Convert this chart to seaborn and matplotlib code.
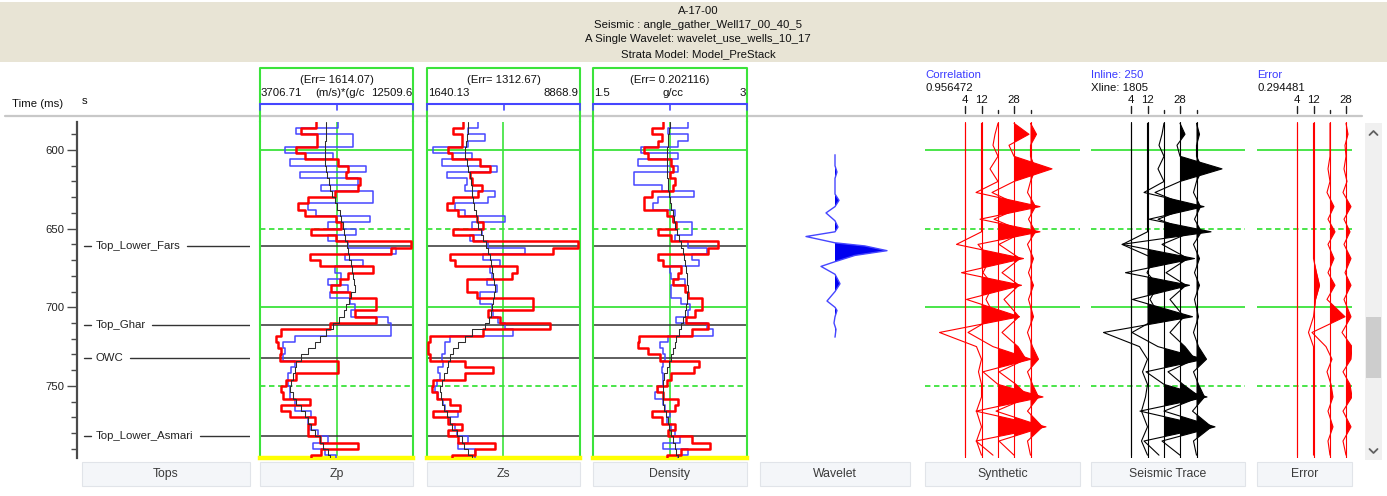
import numpy as np
import matplotlib
matplotlib.use("Agg")
import matplotlib.pyplot as plt
import seaborn as sns
from matplotlib.patches import Rectangle

# ------------------------------------------------------------------ data
title_lines = ["A-17-00",
               "Seismic : angle_gather_Well17_00_40_5",
               "A Single Wavelet: wavelet_use_wells_10_17",
               "Strata Model: Model_PreStack"]
track_names = ["Tops", "Zp", "Zs", "Density", "Wavelet", "Synthetic", "Seismic Trace", "Error"]

top_names = ["Top_Lower_Fars", "Top_Ghar", "OWC", "Top_Lower_Asmari"]
top_times = [661.0, 711.5, 732.5, 781.5]

time_ticks = [600, 650, 700, 750]
minor_ticks = [590, 610, 620, 630, 640, 660, 670, 680, 690, 710, 720, 730, 740, 760, 770, 780, 790]
solid_grid = [600, 700]
dashed_grid = [650, 750]

log_err = [1614.07, 1312.67, 0.202116]
log_min = [3706.71, 1640.13, 1.5]
log_max = [12509.6, 8868.9, 3.0]
log_unit = ["(m/s)*(g/c", "", "g/cc"]

log_time = np.arange(582, 798, 4)   # block tops, ms

zp_red = [6950, 6080, 7000, 7000, 5800, 6280,
          8190, 8770, 8670, 9440, 9340, 8000,
          6470, 5890, 6280, 8100, 8390, 6660,
          8100, 12410, 11260, 6560, 7140, 10210,
          8770, 8290, 7810, 8860, 10400, 10400,
          9150, 10400, 7710, 4930, 4650, 4740,
          4930, 4840, 8190, 8190, 5800, 5220,
          4930, 5030, 6560, 4930, 5410, 6850,
          6470, 6470, 7140, 9340, 7230, 6660]
zp_blue = [8190, 5800, 9060, 9060, 5130, 7910,
           5410, 9820, 5990, 9340, 7230, 10210,
           10210, 6470, 6950, 10010, 7620, 9250,
           7620, 8770, 11550, 8580, 9630, 8000,
           8390, 7620, 8770, 7710, 8860, 9150,
           8960, 11070, 11260, 11260, 5700, 5030,
           5130, 5030, 5700, 5510, 5320, 5320,
           5410, 5410, 5700, 5700, 6660, 6470,
           6560, 7040, 7620, 6760, 7430, 8100]
zp_model = [7520, 7520, 7480, 7460, 7430, 7430,
            7460, 7520, 7580, 7660, 7710, 7850,
            8000, 8150, 8290, 8390, 8480, 8540,
            8610, 8690, 8770, 8830, 8920, 9000,
            9080, 9130, 9150, 8920, 8810, 8670,
            8540, 8230, 7910, 7520, 7140, 6850,
            6470, 6080, 5800, 5700, 5610, 5510,
            5410, 5610, 5800, 6080, 6280, 6470,
            6660, 6850, 7140, 7330, 7620, 7710]

zs_red = [3360, 2890, 3280, 3280, 2650, 2810,
          4150, 4620, 3670, 3750, 4220, 4070,
          2890, 2570, 3120, 3990, 4300, 2890,
          3830, 8790, 7610, 2730, 2960, 5880,
          5640, 3510, 3510, 3990, 6670, 6670,
          4540, 5090, 7450, 4300, 1780, 1700,
          1700, 1780, 3440, 4780, 3440, 1940,
          1860, 2100, 2730, 3200, 1940, 2650,
          3280, 2650, 3120, 4850, 3910, 2810]
zs_blue = [4070, 3590, 4380, 3590, 1940, 3750,
           2330, 4930, 2570, 3510, 3440, 4850,
           4540, 2960, 3440, 5330, 3750, 4220,
           3670, 4540, 6270, 4300, 5090, 4620,
           4700, 4460, 4930, 4150, 4150, 4700,
           4780, 5010, 5330, 5720, 2730, 2490,
           2490, 2330, 2410, 2180, 2250, 2100,
           2020, 2180, 2410, 2490, 3120, 2730,
           2960, 3040, 3590, 3120, 3910, 3910]
zs_model = [3590, 3560, 3510, 3470, 3440, 3440,
            3510, 3590, 3670, 3720, 3750, 3780,
            3830, 3880, 3940, 3990, 4070, 4190,
            4300, 4410, 4540, 4600, 4660, 4730,
            4780, 4820, 4850, 4820, 4780, 4700,
            4650, 4570, 4380, 3750, 3440, 3120,
            2890, 2730, 2650, 2570, 2460, 2330,
            2250, 2290, 2370, 2460, 2570, 2730,
            2840, 3040, 3280, 3400, 3590, 3750]

den_red = [2.18, 2.07, 2.17, 2.13, 2.00, 2.04,
           2.26, 2.28, 2.25, 2.30, 2.28, 2.07,
           2.00, 2.00, 2.22, 2.28, 2.31, 2.13,
           2.26, 2.72, 2.62, 2.13, 2.18, 2.36,
           2.33, 2.28, 2.40, 2.43, 2.56, 2.56,
           2.49, 2.41, 2.62, 2.46, 1.95, 1.94,
           2.04, 2.15, 2.53, 2.48, 2.26, 2.22,
           2.12, 2.18, 2.33, 2.30, 2.07, 2.17,
           2.30, 2.23, 2.46, 2.64, 2.36, 2.22]
den_blue = [2.43, 2.23, 2.43, 2.33, 1.97, 2.33,
            1.94, 2.33, 1.90, 1.90, 2.17, 2.48,
            2.13, 2.08, 2.30, 2.28, 2.46, 2.46,
            2.30, 2.43, 2.61, 2.46, 2.53, 2.25,
            2.26, 2.40, 2.26, 2.26, 2.36, 2.44,
            2.43, 2.31, 2.61, 2.67, 2.23, 2.15,
            2.18, 2.20, 2.18, 2.17, 2.18, 2.18,
            2.13, 2.10, 2.18, 2.20, 2.25, 2.22,
            2.26, 2.30, 2.35, 2.18, 2.43, 2.33]
den_model = [2.25, 2.24, 2.23, 2.23, 2.22, 2.22,
             2.22, 2.22, 2.22, 2.23, 2.23, 2.24,
             2.25, 2.26, 2.28, 2.29, 2.30, 2.32,
             2.34, 2.36, 2.38, 2.39, 2.40, 2.41,
             2.42, 2.42, 2.43, 2.42, 2.42, 2.41,
             2.40, 2.38, 2.36, 2.34, 2.31, 2.30,
             2.28, 2.26, 2.24, 2.22, 2.19, 2.18,
             2.18, 2.18, 2.18, 2.19, 2.21, 2.23,
             2.24, 2.26, 2.28, 2.30, 2.31, 2.33]

# wavelet (lag in ms, amplitude)
wav_lag = [-61, -54, -50, -46, -36, -32, -28, -24, -19, -15, -12, -9, -5, -3,
           0, 3, 7, 10, 15, 21, 26, 32, 36, 38, 42, 46, 50, 55]
wav_amp = [0, 0, 2, 0, 0, 4, 0, -9, 0, 3, 0, -29, 0, 30,
           52, 20, 0, -14, 0, 5, 0, -8, 0, 2, 0, -1, 1, 0]

# angle gathers (angles 4,12,20,28,36)
angles = [4, 12, 20, 28, 36]
labeled_angles = [4, 12, 28]
correlation = 0.956472
inline_no, xline_no = 250, 1805
error_value = 0.294481

wig_time = [583, 590, 597, 604, 612, 620, 627, 636, 644, 652, 660, 669, 678,
            686, 695, 706, 716, 725, 733, 741, 749, 757, 766, 776, 785, 794]
syn_a4 = [0, 0, 0, 0, 0, 0, 0, 0, 0, 0, 0, 0, 0, 0, 0, 0, 0, 0, 0, 0, 0, 0, 0, 0, 0, 0]
syn_a12 = [0, 0, 0, 0, 0, 0, 0, 0, 0, 0, -25, 42, -20, 40, -15, 38, -42, -5, 0, -3, 0, 0, -5, 0, -5, 0]
syn_a20 = [0, -3, -5, 0, -8, 0, -22, 42, -18, 42, -20, -8, -15, -5, -12, -3, -30, -5, 33, -15, 0, 45, -22, 48, -22, -5]
syn_a28 = [0, 15, -5, 0, 38, 0, -22, 8, -20, 10, -15, 6, -12, 5, -10, 5, -12, 4, 12, -15, 2, 15, -18, 30, -15, 0]
syn_a36 = [0, 6, 0, 0, 5, 0, -3, 5, -2, 5, -3, 3, -2, 3, -2, 3, -3, 2, 8, -3, 2, 8, -3, 12, -3, 0]

sei_a4 = [0, 0, 0, 0, 0, 0, 0, 0, 0, 0, 0, 0, 0, 0, 0, 0, 0, 0, 0, 0, 0, 0, 0, 0, 0, 0]
sei_a12 = [0, 0, 0, 0, 0, 0, 0, 0, 0, 0, -25, 47, -22, 42, -15, 45, -44, -8, 0, -5, 0, -2, -6, 0, -6, 0]
sei_a20 = [0, -2, -5, 0, -6, 0, -20, 40, -15, 47, -42, -10, -17, -6, -14, -4, -32, -6, 40, -18, 0, 43, -24, 45, -20, -5]
sei_a28 = [0, 5, -3, 0, 42, 0, -25, 10, -22, 12, -18, 8, -14, 6, -10, 4, -10, 5, 15, -12, 3, 20, -16, 35, -18, 0]
sei_a36 = [0, 3, 0, 0, 6, 0, -3, 4, -2, 5, -3, 3, -2, 3, -2, 2, -3, 2, 10, -3, 2, 8, -4, 15, -3, 0]

err_a4 = [0, 0, 0, 0, 0, 0, 0, 0, 0, 0, 0, 0, 0, 0, 0, 0, 0, 0, 0, 0, 0, 0, 0, 0, 0, 0]
err_a12 = [0, 0, 0, 0, 0, 0, 0, 0, 0, 0, 0, 0, 3, 6, 2, 0, -5, 0, 0, 0, 0, 0, 0, 0, 0, 0]
err_a20 = [0, 0, 0, 0, -2, 0, -3, 4, -2, 5, -2, 4, -2, 5, -3, 15, -18, -4, 2, -3, 1, 3, -2, 3, -2, 0]
err_a28 = [0, 2, -1, 0, -2, 1, -3, 5, -2, 4, -2, 5, -1, 5, -2, 5, -4, 6, 5, -3, 4, 6, -3, 5, -3, 0]
err_a36 = [0, 1, 0, 0, 1, 0, -1, 2, -1, 2, -1, 2, -1, 2, -1, 2, -2, 2, 2, -1, 2, 2, -1, 2, -1, 0]

# ------------------------------------------------------------------ style
sns.set_theme(style="white")
plt.rcParams["font.family"] = ["Liberation Sans", "DejaVu Sans"]
FS = 8.2
GREEN = "#3be33b"
RED = "#ff0000"
BLUE = "#4646ff"
MODEL = "#2e2e2e"
TOPC = "#333333"
HBLUE = "#3a3aff"

W, H = 1387, 496
T_TOP, T_BOT = 582.2, 795.8
Y0, Y1 = 122, 458

fig = plt.figure(figsize=(W / 100, H / 100), dpi=100)


def px_axes(x0, y0, x1, y1, z=2):
    ax = fig.add_axes([x0 / W, 1 - y1 / H, (x1 - x0) / W, (y1 - y0) / H])
    ax.set_zorder(z)
    ax.patch.set_alpha(0)
    return ax


ov = fig.add_axes([0, 0, 1, 1])
ov.set_xlim(0, W)
ov.set_ylim(H, 0)
ov.axis("off")
ov.set_zorder(0)

# banner
ov.add_patch(Rectangle((0, 2), W, 60, fc="#e8e4d5", ec="none"))
for i, line in enumerate(title_lines):
    ov.text(698, 10.5 + 14.4 * i, line, ha="center", va="center", fontsize=FS, color="#111111")

ov.text(12, 104, "Time (ms)", ha="left", va="center", fontsize=FS, color="#111111")
ov.text(82, 101, "s", ha="left", va="center", fontsize=FS, color="#111111")
ov.plot([5, 1362], [116, 116], color="#c8c8c8", lw=1.6)

# track extents (pixels)
tops_ext = (77, 250)
log_ext = [(260, 413), (427, 580), (593, 747)]
wav_ext = (760, 910)
wig_ext = [(925, 1080), (1091, 1245), (1257, 1352)]
base_off = [40, 56.5, 73, 89, 105.5]

# ---------------- tops / time axis
axt = px_axes(tops_ext[0], Y0, tops_ext[1], Y1)
tw = tops_ext[1] - tops_ext[0]
axt.set_xlim(0, tw)
axt.set_ylim(T_BOT, T_TOP)
for s in ["top", "right", "bottom"]:
    axt.spines[s].set_visible(False)
axt.spines["left"].set_color("#4a4a4a")
axt.spines["left"].set_linewidth(1.6)
axt.set_xticks([])
axt.set_yticks(time_ticks)
axt.set_yticks(minor_ticks, minor=True)
axt.tick_params(axis="y", which="major", left=True, length=7, width=1.0, color="#4a4a4a",
                labelsize=FS, labelcolor="#222222", pad=2, direction="out")
axt.tick_params(axis="y", which="minor", left=True, length=4, width=1.0, color="#4a4a4a", direction="out")
top_texts = []
for name, t in zip(top_names, top_times):
    axt.plot([7, 14], [t, t], color=TOPC, lw=1.0)
    top_texts.append((axt.text(19, t, name, ha="left", va="center", fontsize=FS, color="#222222"), t))

# ---------------- log tracks
log_sets = [(zp_red, zp_blue, zp_model), (zs_red, zs_blue, zs_model), (den_red, den_blue, den_model)]
t_ext = np.append(log_time, log_time[-1] + 4)
for i, (L, R) in enumerate(log_ext):
    # header box
    ov.plot([L, L, R, R], [Y0, 68, 68, Y0], color=GREEN, lw=1.5)
    c = (L + R) / 2
    ov.text(c, 80, f"(Err= {log_err[i]:g})", ha="center", va="center", fontsize=FS, color="#111111")
    ov.text(L + 1, 93, f"{log_min[i]:g}", ha="left", va="center", fontsize=FS, color="#111111")
    ov.text(R - 1, 93, f"{log_max[i]:g}", ha="right", va="center", fontsize=FS, color="#111111")
    if log_unit[i]:
        ov.text(c + 3, 93, log_unit[i], ha="center", va="center", fontsize=FS, color="#111111")
    ov.plot([L, R], [104, 104], color=BLUE, lw=1.5)
    for xx in (L, c, R):
        ov.plot([xx, xx], [104, 110], color=BLUE, lw=1.2)

    ax = px_axes(L, Y0, R, Y1)
    ax.set_xticks([])
    ax.set_yticks([])
    ax.spines["top"].set_visible(False)
    for s in ["left", "right"]:
        ax.spines[s].set_color(GREEN)
        ax.spines[s].set_linewidth(1.5)
    ax.spines["bottom"].set_color("#ffff00")
    ax.spines["bottom"].set_linewidth(3.2)
    for t in solid_grid:
        ax.axhline(t, color=GREEN, lw=1.3, zorder=1)
    for t in dashed_grid:
        ax.axhline(t, color=GREEN, lw=1.3, ls=(0, (3, 2)), zorder=1)
    ax.axvline((log_min[i] + log_max[i]) / 2, color=GREEN, lw=1.2, zorder=1)
    for t in top_times:
        ax.axhline(t, color=TOPC, lw=1.1, zorder=2)
    red, blue, model = log_sets[i]
    for vals, col, lw, z in [(blue, BLUE, 1.1, 3), (red, RED, 1.8, 4), (model, MODEL, 0.75, 5)]:
        v = np.append(np.asarray(vals, float), vals[-1])
        sns.lineplot(x=v, y=t_ext, sort=False, estimator=None, orient="y", ax=ax,
                     color=col, linewidth=lw, drawstyle="steps-pre", zorder=z, legend=False)
    ax.set_xlim(log_min[i], log_max[i])
    ax.set_ylim(T_BOT, T_TOP)
    ax.set_xlabel("")
    ax.set_ylabel("")

# ---------------- wavelet
axw = px_axes(wav_ext[0], Y0, wav_ext[1], Y1)
ww = wav_ext[1] - wav_ext[0]
wav_center_ms = 664
wav_base = 75
wt = np.asarray(wav_lag, float) + wav_center_ms
wa = np.asarray(wav_amp, float)
axw.fill_betweenx(wt, wav_base, wav_base + wa, where=wa > 0, interpolate=True, color="#0000f0", lw=0)
sns.lineplot(x=wav_base + wa, y=wt, sort=False, estimator=None, orient="y", ax=axw,
             color=BLUE, linewidth=1.0, legend=False)
axw.set_xlim(0, ww)
axw.set_ylim(T_BOT, T_TOP)
axw.axis("off")

# ---------------- wiggle tracks
wig_sets = [([syn_a4, syn_a12, syn_a20, syn_a28, syn_a36], RED),
            ([sei_a4, sei_a12, sei_a20, sei_a28, sei_a36], "#000000"),
            ([err_a4, err_a12, err_a20, err_a28, err_a36], RED)]
wig_head = [("Correlation", f"{correlation:g}"),
            (f"Inline: {inline_no}", f"Xline: {xline_no}"),
            ("Error", f"{error_value:g}")]
wtime = np.asarray(wig_time, float)
for k, (L, R) in enumerate(wig_ext):
    h1, h2 = wig_head[k]
    ov.text(L, 75, h1, ha="left", va="center", fontsize=FS, color=HBLUE)
    ov.text(L, 88, h2, ha="left", va="center", fontsize=FS, color="#111111")
    width = R - L
    for ang, off in zip(angles, base_off):
        if off > width:
            continue
        if ang in labeled_angles:
            ov.text(L + off, 100, str(ang), ha="center", va="center", fontsize=FS, color="#111111")
            ov.plot([L + off, L + off], [106, 113], color="#222222", lw=1.0)
        else:
            ov.plot([L + off, L + off], [110, 113], color="#222222", lw=1.0)

    ax = px_axes(L, Y0, R, Y1)
    for t in solid_grid:
        ax.axhline(t, color=GREEN, lw=1.3, zorder=1)
    for t in dashed_grid:
        ax.axhline(t, color=GREEN, lw=1.3, ls=(0, (3, 2)), zorder=1)
    amps, col = wig_sets[k]
    for a, off in zip(amps, base_off):
        a = np.asarray(a, float)
        ax.axvline(off, color=col, lw=0.8, zorder=2)
        ax.fill_betweenx(wtime, off, off + a, where=a > 0, interpolate=True, color=col, lw=0, zorder=3)
        sns.lineplot(x=off + a, y=wtime, sort=False, estimator=None, orient="y", ax=ax,
                     color=col, linewidth=0.8, legend=False, zorder=4)
    ax.set_xlim(0, width)
    ax.set_ylim(T_BOT, T_TOP)
    ax.axis("off")

# ---------------- scrollbar
ov.add_patch(Rectangle((1365, 123), 17, 337, fc="#f0f0f0", ec="none"))
ov.add_patch(Rectangle((1366, 317), 15, 61, fc="#cdcdcd", ec="none"))
ov.plot([1369.5, 1373.5, 1377.5], [135, 131, 135], color="#606060", lw=1.3, solid_capstyle="round")
ov.plot([1369.5, 1373.5, 1377.5], [449, 453, 449], color="#606060", lw=1.3, solid_capstyle="round")

# ---------------- bottom labels
bottom_ext = [(82, 250)] + log_ext + [wav_ext] + wig_ext
for name, (L, R) in zip(track_names, bottom_ext):
    ov.add_patch(Rectangle((L, 462), R - L, 24, fc="#f4f6f9", ec="#e1e4e9", lw=0.8))
    ov.text((L + R) / 2, 474, name, ha="center", va="center", fontsize=8.8, color="#3a3a3a")

# tops connecting lines after label extents
fig.canvas.draw()
rend = fig.canvas.get_renderer()
inv = axt.transData.inverted()
for txt, t in top_texts:
    bb = txt.get_window_extent(renderer=rend)
    x_end = inv.transform((bb.x1, bb.y0))[0]
    axt.plot([x_end + 6, tw], [t, t], color=TOPC, lw=1.0)

fig.savefig("out.png", dpi=100)
